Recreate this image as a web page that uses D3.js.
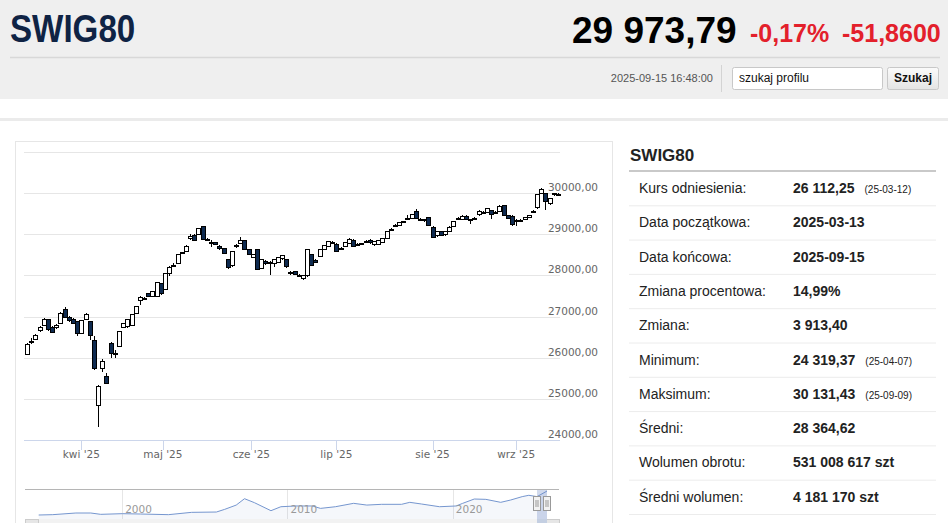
<!DOCTYPE html>
<html lang="pl">
<head>
<meta charset="UTF-8">
<title>SWIG80</title>
<script src="https://d3js.org/d3.v7.min.js"></script>
<style>
  html, body { margin: 0; padding: 0; background: #fff; overflow: hidden; }
  svg { display: block; font-family: "Liberation Sans", Arial, sans-serif; }
  .ax { font-family: "DejaVu Sans", sans-serif; font-size: 10.5px; fill: #666; }
</style>
</head>
<body>
<svg width="948" height="523"></svg>
<script>
// sesje od 2025-03-13 do 2025-09-15 (dni robocze bez świąt GPW)
const startDay = "2025-03-13", endDay = "2025-09-15";
const holidays = ["2025-04-18", "2025-04-21", "2025-05-01", "2025-06-19", "2025-08-15"];

const opens = [
  26080,26390,26450,26650,26790,26920,26730,26730,26840,27160,
  26980,26930,26870,26590,26930,26870,26430,24850,25740,25555,
  26350,26080,26280,26740,26750,26780,27080,27400,27430,27560,
  27500,27500,27800,27660,28050,28240,28300,28540,28580,28900,
  28980,29000,29180,28880,28790,28790,28710,28650,28390,28230,
  28710,28780,28850,28620,28440,28620,28170,28350,28320,28280,
  28320,28400,28390,28080,28090,28000,27930,27990,28500,28370,
  28460,28640,28710,28780,28760,28650,28700,28780,28860,28750,
  28760,28810,28860,28740,28760,28800,28900,29110,29210,29220,
  29290,29380,29390,29550,29370,29350,29410,29170,28960,29060,
  28990,29070,29190,29370,29360,29440,29350,29370,29470,29530,
  29540,29580,29530,29560,29700,29460,29440,29320,29320,29360,
  29410,29550,29640,30000,29980,29740,29960,29960
];
const highs = [
  26360,26470,26580,26760,26960,26950,26760,26810,27100,27240,
  27010,26960,26900,26920,27080,26890,26520,25340,25960,25620,
  26380,26180,26650,26850,26950,27060,27260,27490,27470,27580,
  27620,27840,27820,28070,28220,28290,28520,28580,28730,29010,
  29000,29160,29200,28920,28860,28810,28730,28670,28410,28600,
  28760,28940,28870,28640,28520,28640,28400,28370,28360,28400,
  28460,28500,28410,28100,28110,28040,28000,28640,28520,28390,
  28650,28740,28840,28830,28780,28700,28810,28900,28880,28790,
  28800,28860,28880,28840,28860,28920,29080,29150,29250,29300,
  29330,29460,29490,29610,29400,29380,29430,29190,29080,29080,
  29080,29190,29330,29420,29460,29460,29370,29410,29580,29570,
  29640,29600,29570,29700,29720,29480,29460,29360,29360,29430,
  29480,29590,29990,30131.43,30000,29890,30010,30010
];
const lows = [
  26060,26330,26420,26620,26770,26660,26590,26710,26820,26960,
  26880,26820,26520,26570,26910,26430,25700,24319.37,25660,25350,
  25990,26000,26260,26720,26730,26760,27060,27290,27400,27490,
  27480,27480,27530,27640,27990,28200,28280,28520,28560,28860,
  28840,28980,28860,28830,28700,28730,28630,28510,28150,28210,
  28660,28760,28620,28500,28420,28130,28150,28260,28010,28200,
  28300,28380,28190,28010,28010,27960,27900,27970,28230,28290,
  28440,28620,28690,28760,28560,28620,28680,28760,28680,28720,
  28730,28780,28770,28720,28740,28780,28880,29080,29180,29200,
  29270,29350,29370,29370,29320,29300,29200,28910,28940,28960,
  28970,29050,29170,29340,29340,29340,29250,29340,29450,29510,
  29520,29380,29510,29540,29440,29370,29190,29200,29290,29340,
  29390,29520,29620,29980,29600,29720,29940,29940
];
const closes = [
  26330,26400,26550,26740,26930,26690,26610,26790,27080,26980,
  26900,26840,26580,26900,27060,26530,25740,25310,25900,25380,
  26110,26110,26630,26830,26930,27040,27240,27470,27440,27500,
  27600,27820,27550,28050,28200,28250,28500,28550,28710,28950,
  28860,29140,28880,28870,28800,28760,28650,28530,28200,28590,
  28720,28850,28640,28520,28500,28150,28390,28280,28300,28380,
  28440,28480,28210,28070,28030,28010,27990,28620,28250,28320,
  28630,28720,28820,28810,28580,28660,28790,28880,28700,28760,
  28775,28820,28790,28820,28840,28900,29060,29120,29220,29280,
  29300,29390,29470,29390,29360,29340,29220,28930,29060,28980,
  29060,29170,29310,29390,29440,29360,29340,29390,29560,29540,
  29620,29480,29540,29680,29460,29390,29230,29330,29340,29410,
  29460,29560,29970,30080,29800,29870,29990,29973.79
];

const yTicks = [24000, 25000, 26000, 27000, 28000, 29000, 30000, 31000];
const monthStarts = ["2025-04-01", "2025-05-01", "2025-06-01", "2025-07-01", "2025-08-01", "2025-09-01"];
const monthLabels = ["kwi '25", "maj '25", "cze '25", "lip '25", "sie '25", "wrz '25"];

// nawigator: cała historia indeksu
const navYears = [1994.95,1995.8,1997.2,1998.1,1998.7,2000.0,2001.1,2002.8,2004.2,2005.7,2006.2,2006.9,2007.4,2008.0,2009.0,2009.6,2010.5,2011.5,2012.0,2012.9,2014.0,2014.8,2015.7,2016.9,2017.4,2018.1,2019.2,2020.2,2020.6,2021.3,2022.0,2022.9,2023.5,2024.2,2024.6,2025.1,2025.7];
const navValues = [1000,1400,3400,3400,1800,2600,2200,1400,4200,4600,7800,13000,20700,15900,6200,11000,11900,11900,9000,11000,15100,13000,13900,13900,16300,14300,11000,11900,15100,20300,19900,16300,19100,23200,24800,23200,29974];
const navTicks = [2000, 2010, 2020];

const tableLabels = ["Kurs odniesienia:", "Data początkowa:", "Data końcowa:", "Zmiana procentowa:", "Zmiana:", "Minimum:", "Maksimum:", "Średni:", "Wolumen obrotu:", "Średni wolumen:"];
const tableValues = ["26 112,25", "2025-03-13", "2025-09-15", "14,99%", "3 913,40", "24 319,37", "30 131,43", "28 364,62", "531 008 617 szt", "4 181 170 szt"];
const tableNotes = ["(25-03-12)", "", "", "", "", "(25-04-07)", "(25-09-09)", "", "", ""];

// lista sesji
const parse = d3.utcParse("%Y-%m-%d");
const fmt = d3.utcFormat("%Y-%m-%d");
const days = d3.utcDay.range(parse(startDay), d3.utcDay.offset(parse(endDay), 1))
  .filter(d => d.getUTCDay() > 0 && d.getUTCDay() < 6 && !holidays.includes(fmt(d)));
const data = days.map((d, i) => ({date: d, o: opens[i], h: highs[i], l: lows[i], c: closes[i]}));

const svg = d3.select("svg");

// ---------- nagłówek ----------
svg.append("rect").attr("width", 948).attr("height", 99).attr("fill", "#efefef");
svg.append("line").attr("x1", 10).attr("x2", 940).attr("y1", 57.5).attr("y2", 57.5)
  .attr("stroke", "#d8d8d8").attr("stroke-width", 1.5);
// tytuł w węższym kroju (skalowanie w poziomie)
svg.append("text").attr("transform", "translate(10,42) scale(0.85,1)")
  .style("font-weight", "bold").style("font-size", "39px").attr("fill", "#0f2344").text("SWIG80");
svg.append("text").attr("x", 572).attr("y", 43).style("font-weight", "bold").style("font-size", "37px")
  .attr("fill", "#000").text("29 973,79");
svg.append("text").attr("x", 750).attr("y", 42).style("font-weight", "bold").style("font-size", "25px")
  .attr("fill", "#e3202b").text("-0,17%");
svg.append("text").attr("x", 842).attr("y", 42).style("font-weight", "bold").style("font-size", "25px")
  .attr("fill", "#e3202b").text("-51,8600");
svg.append("text").attr("x", 713).attr("y", 82).attr("text-anchor", "end").style("font-size", "11px")
  .attr("fill", "#555").text("2025-09-15 16:48:00");
svg.append("line").attr("x1", 721.5).attr("x2", 721.5).attr("y1", 65).attr("y2", 92).attr("stroke", "#d3d3d3");
svg.append("rect").attr("x", 732.5).attr("y", 67.5).attr("width", 150).attr("height", 22).attr("rx", 2)
  .attr("fill", "#fff").attr("stroke", "#c8c8c8");
svg.append("text").attr("x", 739).attr("y", 82).style("font-size", "12px").attr("fill", "#111").text("szukaj profilu");
const grad = svg.append("defs").append("linearGradient").attr("id", "btn").attr("x2", 0).attr("y2", 1);
grad.append("stop").attr("offset", 0).attr("stop-color", "#fbfbfb");
grad.append("stop").attr("offset", 1).attr("stop-color", "#e4e4e4");
svg.append("rect").attr("x", 887.5).attr("y", 67.5).attr("width", 51).attr("height", 22).attr("rx", 2)
  .attr("fill", "url(#btn)").attr("stroke", "#c8c8c8");
svg.append("text").attr("x", 913).attr("y", 82).attr("text-anchor", "middle").style("font-weight", "bold")
  .style("font-size", "12px").attr("fill", "#111").text("Szukaj");
svg.append("rect").attr("y", 118).attr("width", 948).attr("height", 3).attr("fill", "#ebebeb");

// ---------- wykres ----------
svg.append("rect").attr("x", 15.5).attr("y", 141.5).attr("width", 597).attr("height", 400)
  .attr("fill", "#fff").attr("stroke", "#e6e6e6");

const x = d3.scaleLinear().domain([0, data.length - 1]).range([27, 558]);
const y = d3.scaleLinear().domain([24000, 31000]).range([440, 152]);

// pozycja daty na osi porządkowej (interpolacja między sesjami)
const posOf = s => {
  const t = parse(s);
  const i = data.findIndex(d => d.date >= t);
  if (+data[i].date === +t || i === 0) return i;
  const a = data[i - 1].date, b = data[i].date;
  return i - 1 + (t - a) / (b - a);
};

const g = svg.append("g");
g.selectAll(".grid").data(yTicks.slice(1)).join("line")
  .attr("x1", 24).attr("x2", 560)
  .attr("y1", d => Math.round(y(d)) + 0.5).attr("y2", d => Math.round(y(d)) + 0.5)
  .attr("stroke", "#e6e6e6");
g.selectAll(".ylab").data(yTicks.filter(d => d < 31000)).join("text")
  .attr("class", "ax").attr("x", 598).attr("y", d => y(d) - 2).attr("text-anchor", "end")
  .text(d => d3.format("d")(d) + ",00");

g.append("line").attr("x1", 24).attr("x2", 560).attr("y1", 440.5).attr("y2", 440.5).attr("stroke", "#ccd6eb");
const mt = monthStarts.map(posOf);
g.selectAll(".tick").data(mt).join("line")
  .attr("x1", d => Math.round(x(d)) + 0.5).attr("x2", d => Math.round(x(d)) + 0.5)
  .attr("y1", 440).attr("y2", 450).attr("stroke", "#ccd6eb");
g.selectAll(".xlab").data(mt).join("text")
  .attr("class", "ax").attr("x", d => x(d)).attr("y", 458).attr("text-anchor", "middle")
  .text((d, i) => monthLabels[i]);

const candles = g.selectAll(".c").data(data).join("g").attr("shape-rendering", "crispEdges");
candles.append("line")
  .attr("x1", (d, i) => Math.round(x(i)) + 0.5).attr("x2", (d, i) => Math.round(x(i)) + 0.5)
  .attr("y1", d => y(d.h)).attr("y2", d => y(d.l)).attr("stroke", "#000");
candles.append("rect")
  .attr("x", (d, i) => Math.round(x(i)) - 1.5).attr("width", 4)
  .attr("y", d => y(Math.max(d.o, d.c)))
  .attr("height", d => Math.max(1, Math.abs(y(d.o) - y(d.c))))
  .attr("fill", d => d.c >= d.o ? "#fff" : "#0e2a50").attr("stroke", "#000");

// ---------- nawigator ----------
const nx = d3.scaleLinear().domain([1994.95, 2025.7]).range([38.7, 547]);
const ny = d3.scaleLinear().domain([1000, 30000]).range([515, 491]);
const nav = svg.append("g");
nav.selectAll(".ng").data(navTicks).join("line")
  .attr("x1", d => Math.round(nx(d)) + 0.5).attr("x2", d => Math.round(nx(d)) + 0.5)
  .attr("y1", 490).attr("y2", 519).attr("stroke", "#e6e6e6");
nav.append("path").datum(navYears)
  .attr("d", d3.area().x(d => nx(d)).y0(519).y1((d, i) => ny(navValues[i])))
  .attr("fill", "rgba(51,92,173,0.05)");
nav.append("path").datum(navYears)
  .attr("d", d3.line().x(d => nx(d)).y((d, i) => ny(navValues[i])))
  .attr("fill", "none").attr("stroke", "#7596cf").attr("stroke-width", 1);
nav.selectAll(".nl").data(navTicks).join("text")
  .attr("x", d => nx(d) + 3).attr("y", 513).style("font-family", "'DejaVu Sans', sans-serif")
  .style("font-size", "10.5px").attr("fill", "#999").text(d => d);
nav.append("rect").attr("x", 537).attr("y", 489.5).attr("width", 10).attr("height", 40)
  .attr("fill", "rgba(102,133,194,0.3)");
nav.append("line").attr("x1", 25).attr("x2", 559).attr("y1", 489.5).attr("y2", 489.5).attr("stroke", "#b5b5b5");
// pasek przewijania
nav.append("rect").attr("x", 25).attr("y", 519).attr("width", 534).attr("height", 14).attr("fill", "#f2f2f2");
nav.append("rect").attr("x", 25.5).attr("y", 519.5).attr("width", 13).attr("height", 13)
  .attr("fill", "#e6e6e6").attr("stroke", "#ccc");
nav.append("rect").attr("x", 546.5).attr("y", 519.5).attr("width", 13).attr("height", 13)
  .attr("fill", "#e6e6e6").attr("stroke", "#ccc");
nav.append("rect").attr("x", 537).attr("y", 519).attr("width", 10).attr("height", 14).attr("fill", "#c4cfe2");
[537, 547].forEach(hx => {
  nav.append("rect").attr("x", hx - 3.5).attr("y", 496.5).attr("width", 7).attr("height", 14)
    .attr("fill", "#f2f2f2").attr("stroke", "#999");
  nav.append("line").attr("x1", hx - 1).attr("x2", hx - 1).attr("y1", 500).attr("y2", 507).attr("stroke", "#999");
  nav.append("line").attr("x1", hx + 1).attr("x2", hx + 1).attr("y1", 500).attr("y2", 507).attr("stroke", "#999");
});

// ---------- tabela ----------
const tb = svg.append("g");
tb.append("text").attr("x", 630).attr("y", 161).style("font-weight", "bold").style("font-size", "17px")
  .attr("fill", "#222").text("SWIG80");
tb.append("line").attr("x1", 629).attr("x2", 936).attr("y1", 171).attr("y2", 171)
  .attr("stroke", "#c9c9c9").attr("stroke-width", 2);
const rowH = 34.3;
const rows = tb.selectAll(".row").data(tableLabels).join("g")
  .attr("transform", (d, i) => `translate(0,${172 + i * rowH})`);
rows.append("line").attr("x1", 629).attr("x2", 936).attr("y1", rowH - 0.5).attr("y2", rowH - 0.5).attr("stroke", "#ececec");
rows.append("text").attr("x", 639).attr("y", 21).style("font-size", "14px").attr("fill", "#222").text(d => d);
const vals = rows.append("text").attr("x", 793).attr("y", 21).style("font-size", "14px").style("font-weight", "bold")
  .attr("fill", "#222").text((d, i) => tableValues[i]);
rows.append("text").attr("y", 21).style("font-size", "10px").attr("fill", "#222")
  .attr("x", (d, i) => 793 + vals.nodes()[i].getComputedTextLength() + 10)
  .text((d, i) => tableNotes[i]);
</script>
</body>
</html>
